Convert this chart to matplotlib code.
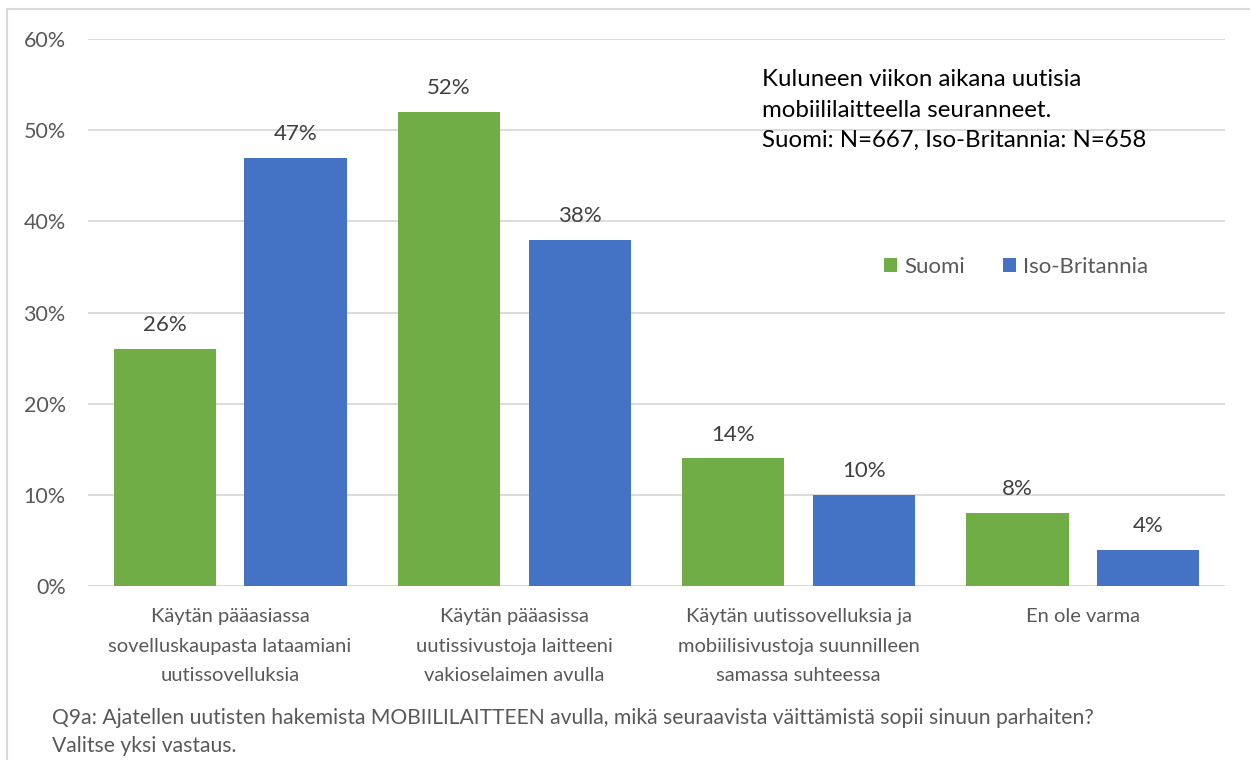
#!/usr/bin/env python3
import numpy as np
from matplotlib import pyplot as plt
from matplotlib.patches import Rectangle

categories = [
    "Käytän pääasiassa\nsovelluskaupasta lataamiani\nuutissovelluksia",
    "Käytän pääasissa\nuutissivustoja laitteeni\nvakioselaimen avulla",
    "Käytän uutissovelluksia ja\nmobiilisivustoja suunnilleen\nsamassa suhteessa",
    "En ole varma",
]
series_names = ["Suomi", "Iso-Britannia"]
suomi = [26, 52, 14, 8]
britannia = [47, 38, 10, 4]
y_ticks = [0, 10, 20, 30, 40, 50, 60]

colors = ["#70AD47", "#4472C4"]
plt.rcParams['font.family'] = ['Lato', 'DejaVu Sans']


def main():
    fig = plt.figure(figsize=(12.5, 7.6), dpi=100)
    ax = fig.add_axes([0.0704, 0.2289, 0.9096, 0.7198])

    x = np.arange(len(categories))
    width = 0.36
    offsets = [-0.23, 0.23]
    for vals, off, col, name in zip([suomi, britannia], offsets, colors, series_names):
        bars = ax.bar(x + off, vals, width, color=col, label=name, zorder=3)
        for b, v in zip(bars, vals):
            ax.text(b.get_x() + b.get_width() / 2, v + 1.5, f"{v}%",
                    ha='center', va='bottom', fontsize=16, color='#404040')

    ax.set_xlim(-0.5, 3.5)
    ax.set_ylim(0, 60)
    ax.set_yticks(y_ticks)
    ax.set_yticklabels([f"{t}%" for t in y_ticks])
    ax.yaxis.grid(True, color='#D9D9D9', linewidth=1.3, zorder=0)
    for s in ax.spines.values():
        s.set_visible(False)
    ax.axhline(0, color='#D9D9D9', linewidth=1.3, zorder=2)
    ax.tick_params(axis='y', length=0, pad=16, labelsize=15.5, labelcolor='#595959')
    ax.set_xticks(x)
    ax.set_xticklabels(categories)
    ax.tick_params(axis='x', length=0, pad=16, labelsize=14.5, labelcolor='#595959')
    for lbl in ax.get_xticklabels():
        lbl.set_linespacing(1.9)

    ax.legend(loc='center left', bbox_to_anchor=(884 / 1250, 1 - 267 / 760),
              bbox_transform=fig.transFigure, ncol=2, frameon=False,
              fontsize=16, labelcolor='#595959', handlelength=0.6, handleheight=0.6,
              handletextpad=0.3, columnspacing=1.7, borderpad=0, borderaxespad=0)

    fig.text(0.610, 0.909, "Kuluneen viikon aikana uutisia\nmobiililaitteella seuranneet.\nSuomi: N=667, Iso-Britannia: N=658",
             ha='left', va='top', fontsize=17.3, color='black', linespacing=1.55)

    fig.text(0.042, 0.068, "Q9a: Ajatellen uutisten hakemista MOBIILILAITTEEN avulla, mikä seuraavista väittämistä sopii sinuun parhaiten?\nValitse yksi vastaus.",
             ha='left', va='top', fontsize=15.2, color='#595959', linespacing=1.45)

    fig.patches.append(Rectangle((7 / 1250, -0.1), 1.2, 1 - 9 / 760 + 0.1, transform=fig.transFigure,
                                 fill=False, edgecolor='#D9D9D9', linewidth=1.5))

    fig.savefig("out.png", dpi=100)


if __name__ == "__main__":
    main()
